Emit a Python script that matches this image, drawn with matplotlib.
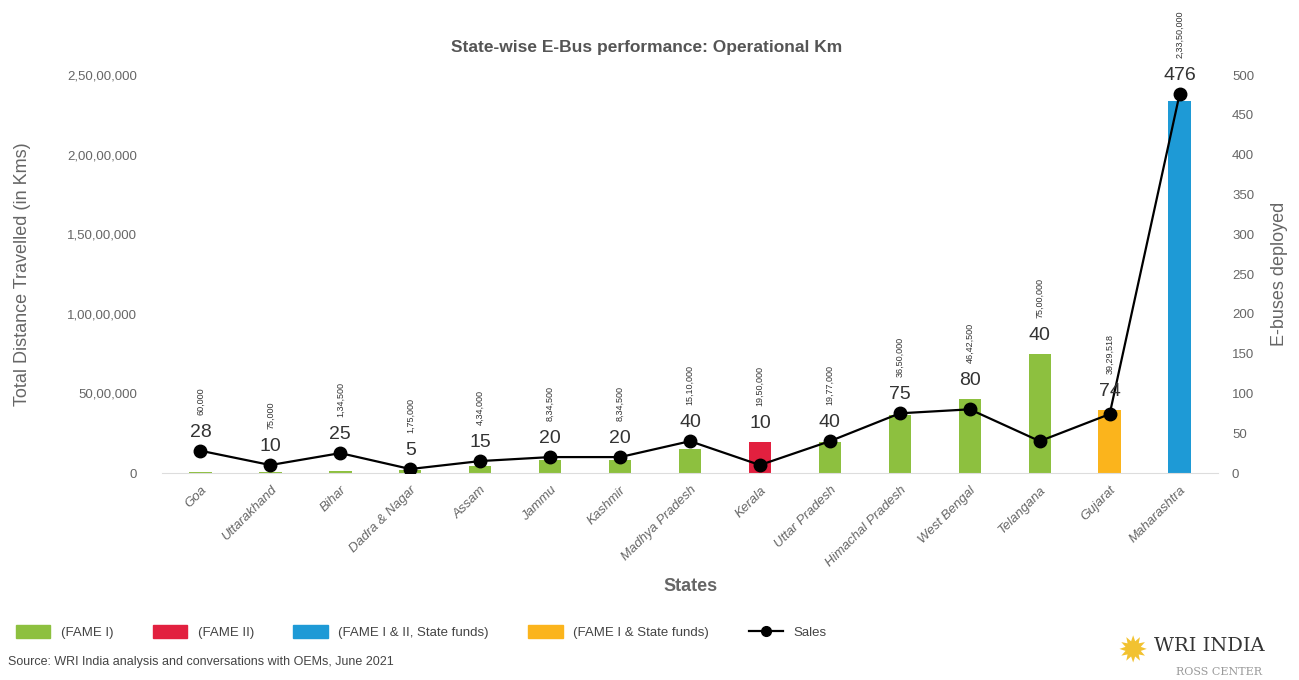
import numpy as np
import matplotlib
matplotlib.use("Agg")
import matplotlib.pyplot as plt
from matplotlib.patches import Patch
from matplotlib.lines import Line2D

plt.rcParams['font.family'] = ['Liberation Sans', 'DejaVu Sans']

# data
states = ["Goa", "Uttarakhand", "Bihar", "Dadra & Nagar", "Assam", "Jammu", "Kashmir",
          "Madhya Pradesh", "Kerala", "Uttar Pradesh", "Himachal Pradesh", "West Bengal",
          "Telangana", "Gujarat", "Maharashtra"]
km = [60000, 75000, 134500, 175000, 434000, 834500, 834500, 1510000, 1950000,
      1977000, 3650000, 4642500, 7500000, 3929518, 23350000]
km_labels = ["60,000", "75,000", "1,34,500", "1,75,000", "4,34,000", "8,34,500", "8,34,500",
             "15,10,000", "19,50,000", "19,77,000", "36,50,000", "46,42,500", "75,00,000",
             "39,29,518", "2,33,50,000"]
scheme = ["FAME I"] * 8 + ["FAME II"] + ["FAME I"] * 4 + ["FAME I & State funds", "FAME I & II, State funds"]
sales = [28, 10, 25, 5, 15, 20, 20, 40, 10, 40, 75, 80, 40, 74, 476]

left_ticks = [0, 5000000, 10000000, 15000000, 20000000, 25000000]
left_ticklabels = ["0", "50,00,000", "1,00,00,000", "1,50,00,000", "2,00,00,000", "2,50,00,000"]

scheme_colors = {
    "FAME I": "#8dc03f",
    "FAME II": "#e2203f",
    "FAME I & II, State funds": "#1e9ad6",
    "FAME I & State funds": "#fbb41c",
}
grey = "#666666"

fig = plt.figure(figsize=(12.99, 6.8), dpi=100)
ax = fig.add_axes([0.1247, 0.3044, 0.813, 0.5853])
x = np.arange(len(states))

ax.bar(x, km, width=0.32, color=[scheme_colors[s] for s in scheme], zorder=2)
ax.set_ylim(0, 25000000)
ax.set_xlim(-0.55, len(states) - 0.45)
ax.set_yticks(left_ticks)
ax.set_yticklabels(left_ticklabels, color=grey, fontsize=9.5)
ax.set_xticks(x)
ax.set_xticklabels(states, rotation=45, ha="right", rotation_mode="anchor",
                   color=grey, fontsize=9.5, style="italic")
ax.tick_params(axis="x", length=0, pad=8)
ax.tick_params(axis="y", length=0, pad=18)
for sp in ["top", "right", "left"]:
    ax.spines[sp].set_visible(False)
ax.spines["bottom"].set_color("#dddddd")
ax.set_ylabel("Total Distance Travelled (in Kms)", color=grey, fontsize=13, labelpad=26)
ax.set_xlabel("States", color=grey, fontsize=13, fontweight="bold", labelpad=6)
fig.text(0.498, 0.93, "State-wise E-Bus performance: Operational Km", color="#555555",
         fontsize=12.5, fontweight="bold", ha="center", va="center")

ax2 = ax.twinx()
ax2.plot(x, sales, color="black", lw=1.6, marker="o", ms=9, zorder=3)
ax2.set_ylim(0, 500)
ax2.set_yticks(np.arange(0, 501, 50))
ax2.tick_params(axis="y", length=0, pad=10, labelcolor=grey, labelsize=9.5)
for sp in ax2.spines.values():
    sp.set_visible(False)
ax2.set_ylabel("E-buses deployed", color=grey, fontsize=13, labelpad=12)

# labels stacked above the taller of bar / marker
for i in range(len(states)):
    top = max(km[i] / 50000, sales[i])
    ax2.annotate(str(sales[i]), (x[i], top), xytext=(0, 10), textcoords="offset pixels",
                 ha="center", va="bottom", fontsize=14, color="#333333")
    ax2.annotate(km_labels[i], (x[i], top), xytext=(0, 36), textcoords="offset pixels",
                 ha="center", va="bottom", fontsize=6.5, rotation=90, color="#333333")

handles = [Patch(color=scheme_colors["FAME I"]),
           Patch(color=scheme_colors["FAME II"]),
           Patch(color=scheme_colors["FAME I & II, State funds"]),
           Patch(color=scheme_colors["FAME I & State funds"]),
           Line2D([], [], color="black", lw=1.6, marker="o", ms=7)]
labels = ["(FAME I)", "(FAME II)", "(FAME I & II, State funds)", "(FAME I & State funds)", "Sales"]
fig.legend(handles, labels, loc="center left", bbox_to_anchor=(0.003, 0.07), ncol=5,
           frameon=False, fontsize=9.5, handlelength=2.6, handleheight=1.1,
           columnspacing=3.0, labelcolor="#444444")

fig.text(0.006, 0.026, "Source: WRI India analysis and conversations with OEMs, June 2021",
         fontsize=9, color="#444444", va="center")

# logo in the bottom right corner
fig.text(0.86, 0.04, "\u2739", fontsize=26, color="#f2c230", va="center", family="DejaVu Sans")
fig.text(0.888, 0.05, "WRI INDIA", fontsize=14, color="#333333", va="center",
         family="DejaVu Serif")
fig.text(0.905, 0.012, "ROSS CENTER", fontsize=8, color="#999999", va="center",
         family="DejaVu Serif")

fig.savefig("out.png", dpi=100)
